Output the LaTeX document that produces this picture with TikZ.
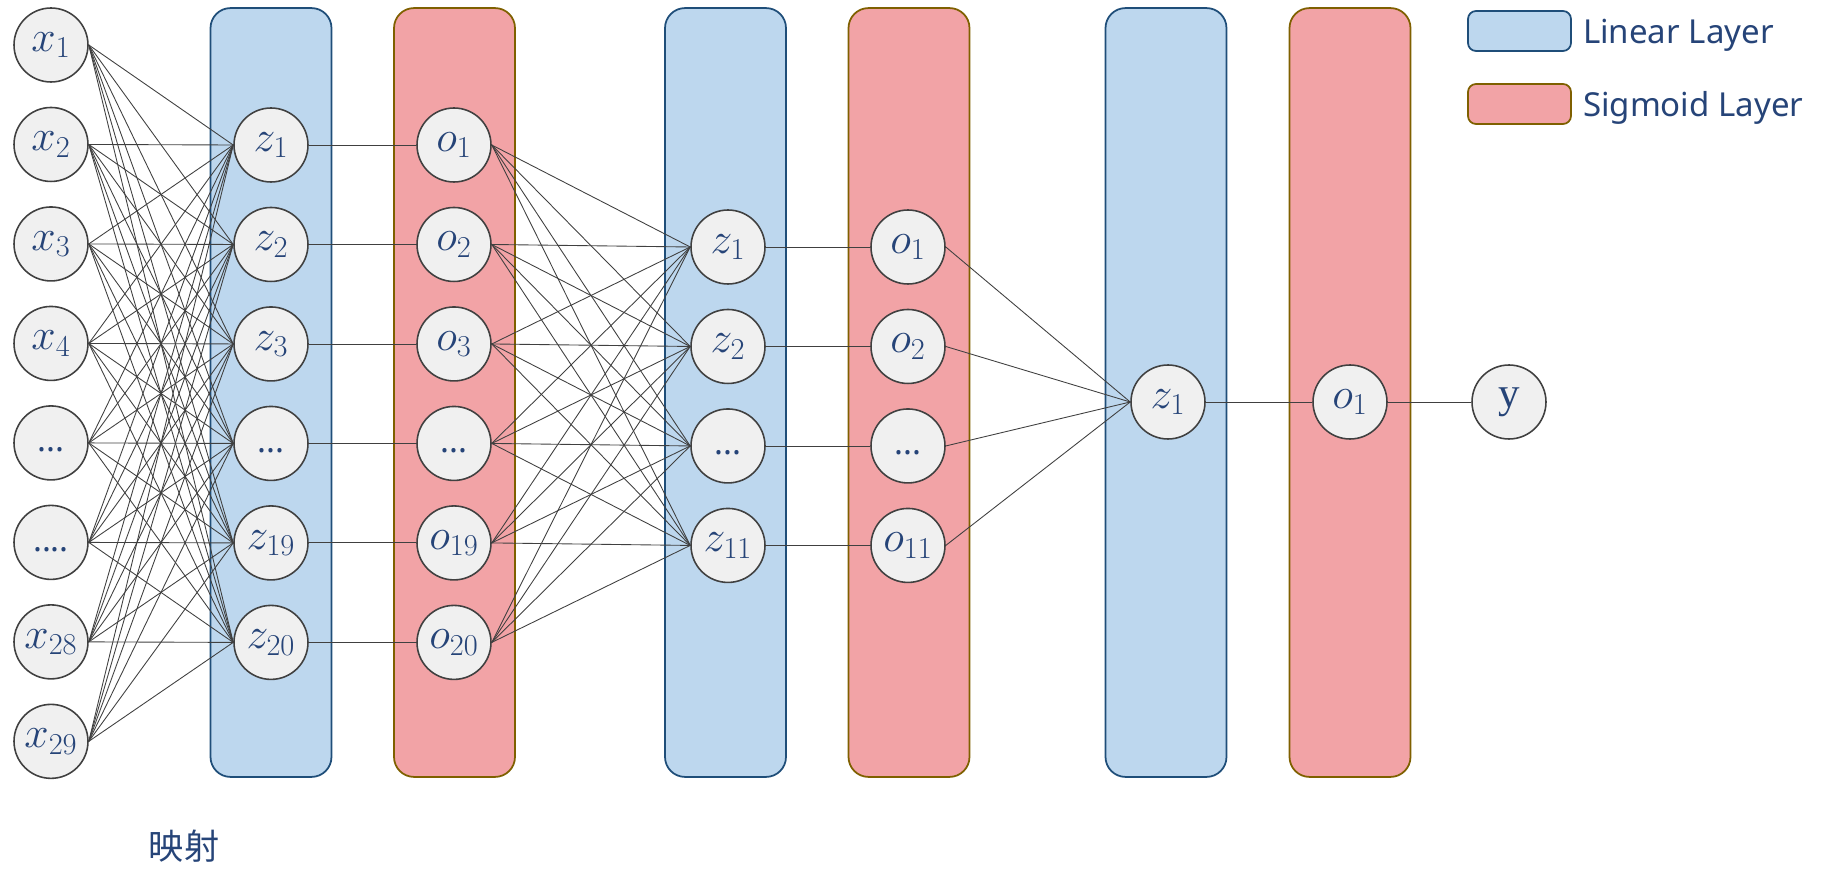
\documentclass[tikz,border=0pt]{standalone}
\usepackage{fontspec}
\setmainfont{Noto Sans}
\newfontfamily\cjk{Noto Sans CJK SC}
\newfontfamily\seriffont{Liberation Serif}
\usepackage{tikz}
\usetikzlibrary{positioning}

\definecolor{labelblue}{HTML}{264478}
\definecolor{linfill}{HTML}{BDD7EE}
\definecolor{lindraw}{HTML}{1F4E79}
\definecolor{sigfill}{HTML}{F2A3A6}
\definecolor{sigdraw}{HTML}{7F6000}
\definecolor{unitfill}{HTML}{F0F0F0}
\definecolor{unitdraw}{HTML}{404040}

\begin{document}
\begin{tikzpicture}[x=0.02cm, y=0.02cm, node distance=1.99cm,
  unit/.style={draw=unitdraw, fill=unitfill, circle, line width=0.9pt, minimum size=1.48cm, inner sep=0pt, text=labelblue, font=\fontsize{24.5}{28}\selectfont},
  dots/.style={font=\bfseries\fontsize{19}{22}\selectfont},
  linear/.style={draw=lindraw, fill=linfill, line width=1pt, rounded corners=0.4cm, minimum width=2.42cm, minimum height=15.38cm, inner sep=0pt},
  sigmoid/.style={draw=sigdraw, fill=sigfill, line width=1pt, rounded corners=0.4cm, minimum width=2.42cm, minimum height=15.38cm, inner sep=0pt},
  keybox/.style={minimum width=2.06cm, minimum height=0.8cm, rounded corners=0.16cm},
  keytext/.style={text=labelblue, text depth=0pt, font=\fontsize{18.8}{22}\selectfont},
  link/.style={draw=black!75, line width=0.5pt}
]

\useasboundingbox (0,0) rectangle (1830,-891);

% layers
\node [linear                                     ] (lin1) at (271,-392.5)  {};
\node [sigmoid                                    ] (sig1) at (454.5,-392.5) {};
\node [linear                                     ] (lin2) at (725.5,-392.5) {};
\node [sigmoid                                    ] (sig2) at (909,-392.5)  {};
\node [linear                                     ] (lin3) at (1166,-392.5) {};
\node [sigmoid                                    ] (sig3) at (1350,-392.5) {};

% legend
\node [linear , keybox                            ] (keylin) at (1519.5,-31)  {};
\node [sigmoid, keybox                            ] (keysig) at (1519.5,-104) {};
\node [keytext, right=0.1cm of keylin             ] (keylintext) {Linear Layer};
\node [keytext, right=0.1cm of keysig             ] (keysigtext) {Sigmoid Layer};

% inputs
\node [unit                   ] (in1) at (51,-45) {$x_1$};
\node [unit, below of=in1     ] (in2)  {$x_2$};
\node [unit, below of=in2     ] (in3)  {$x_3$};
\node [unit, below of=in3     ] (in4)  {$x_4$};
\node [unit, dots, below of=in4] (in5) {\vphantom{x}...};
\node [unit, dots, below of=in5] (in6) {\vphantom{x}....};
\node [unit, below of=in6     ] (in7)  {$x_{28}$};
\node [unit, below of=in7     ] (in8)  {$x_{29}$};

% first linear / sigmoid
\node [unit                   ] (za1) at (271,-145) {$z_1$};
\node [unit, below of=za1     ] (za2)  {$z_2$};
\node [unit, below of=za2     ] (za3)  {$z_3$};
\node [unit, dots, below of=za3] (za4) {\vphantom{x}...};
\node [unit, below of=za4     ] (za5)  {$z_{19}$};
\node [unit, below of=za5     ] (za6)  {$z_{20}$};

\node [unit                   ] (oa1) at (454,-145) {$o_1$};
\node [unit, below of=oa1     ] (oa2)  {$o_2$};
\node [unit, below of=oa2     ] (oa3)  {$o_3$};
\node [unit, dots, below of=oa3] (oa4) {\vphantom{x}...};
\node [unit, below of=oa4     ] (oa5)  {$o_{19}$};
\node [unit, below of=oa5     ] (oa6)  {$o_{20}$};

% second linear / sigmoid
\node [unit                   ] (zb1) at (728,-247) {$z_1$};
\node [unit, below of=zb1     ] (zb2)  {$z_2$};
\node [unit, dots, below of=zb2] (zb3) {\vphantom{x}...};
\node [unit, below of=zb3     ] (zb4)  {$z_{11}$};

\node [unit                   ] (ob1) at (908,-247) {$o_1$};
\node [unit, below of=ob1     ] (ob2)  {$o_2$};
\node [unit, dots, below of=ob2] (ob3) {\vphantom{x}...};
\node [unit, below of=ob3     ] (ob4)  {$o_{11}$};

% output
\node [unit                   ] (zc)  at (1168,-402) {$z_1$};
\node [unit                   ] (oc)  at (1350,-402) {$o_1$};
\node [unit                   ] (out) at (1509,-402) {\seriffont y};

\node [keytext, font=\fontsize{20}{24}\selectfont] (map) at (184,-845) {\cjk 映射};

% links
\foreach \i in {1,...,8}
  \foreach \j in {1,...,6}
    \path [link] (in\i.east) edge (za\j.west);
\foreach \j in {1,...,6}
  \path [link] (za\j.east) edge (oa\j.west);
\foreach \i in {1,...,6}
  \foreach \j in {1,...,4}
    \path [link] (oa\i.east) edge (zb\j.west);
\foreach \j in {1,...,4}
  \path [link] (zb\j.east) edge (ob\j.west);
\foreach \i in {1,...,4}
  \path [link] (ob\i.east) edge (zc.west);
\path [link] (zc.east) edge (oc.west);
\path [link] (oc.east) edge (out.west);

\end{tikzpicture}
\end{document}
